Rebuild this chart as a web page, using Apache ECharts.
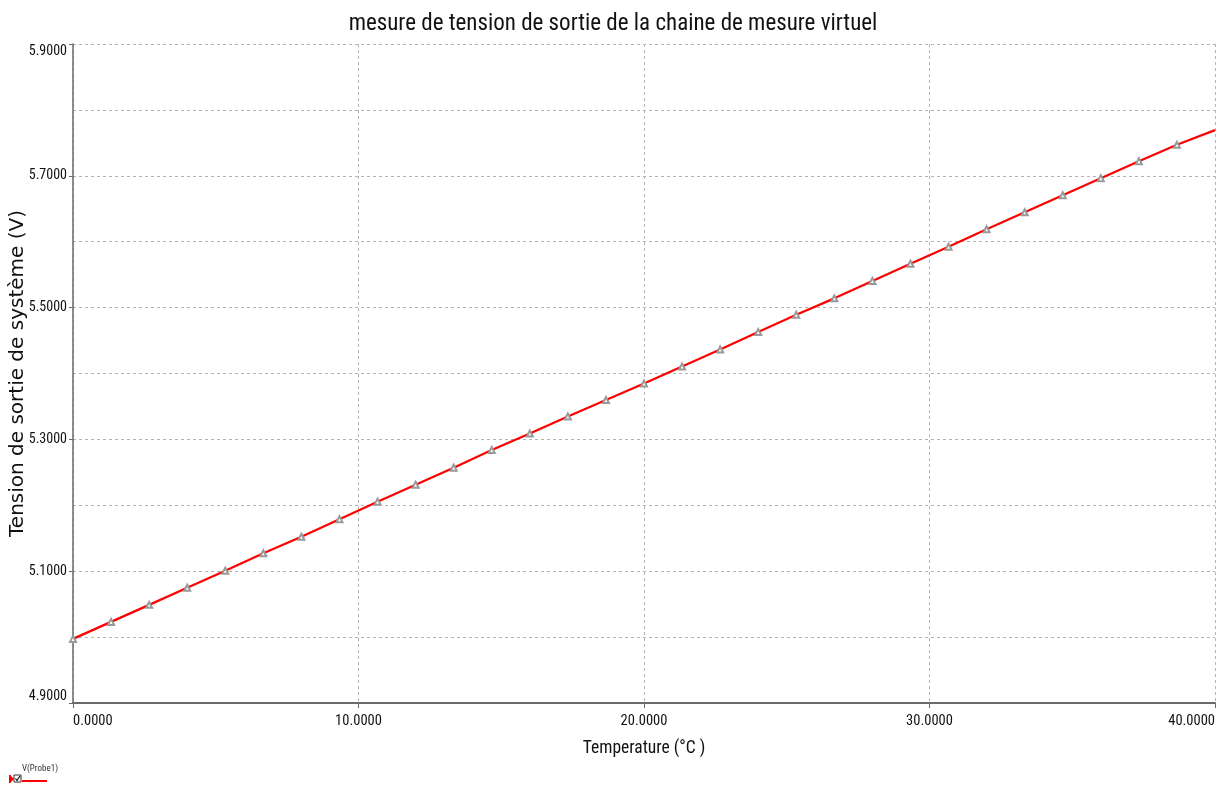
<!DOCTYPE html>
<html>
<head>
<meta charset="utf-8">
<title>mesure de tension de sortie</title>
<script src="https://cdn.jsdelivr.net/npm/echarts@6/dist/echarts.min.js"></script>
<style>
  html, body { margin: 0; padding: 0; background: #ffffff; }
  #chart { width: 1226px; height: 790px; }
</style>
</head>
<body>
<div id="chart"></div>
<script>
// Simulated probe output: temperature sweep (°C) and output voltage V(Probe1)
const temperature = [
  0, 1.333, 2.667, 4, 5.333, 6.667, 8, 9.333, 10.667, 12,
  13.333, 14.667, 16, 17.333, 18.667, 20, 21.333, 22.667, 24, 25.333,
  26.667, 28, 29.333, 30.667, 32, 33.333, 34.667, 36, 37.333, 38.667, 40
];
const voltage = [
  4.9973, 5.0231, 5.0489, 5.0748, 5.1006, 5.1272, 5.1523, 5.1790, 5.2055, 5.2313,
  5.2571, 5.2838, 5.3088, 5.3347, 5.3598, 5.3848, 5.4106, 5.4365, 5.4630, 5.4890,
  5.5140, 5.5405, 5.5665, 5.5925, 5.6188, 5.6447, 5.6705, 5.6964, 5.7222, 5.7470,
  5.7693
];
const seriesName = 'V(Probe1)';
const chartTitle = 'mesure de tension de sortie de la chaine de mesure virtuel';
const xAxisTitle = 'Temperature (°C )';
const yAxisTitle = 'Tension de sortie de système (V)';

const narrow = "'Liberation Sans Narrow', 'Arial Narrow', 'Roboto Condensed', 'Liberation Sans', sans-serif";
const points = temperature.map((t, i) => [t, voltage[i]]);
const lastIndex = points.length - 1;

const chart = echarts.init(document.getElementById('chart'), null, { renderer: 'canvas' });
chart.setOption({
  backgroundColor: '#ffffff',
  animation: false,
  title: {
    text: chartTitle,
    left: 'center',
    top: 8,
    textStyle: { fontFamily: narrow, fontSize: 23, fontWeight: 'normal', color: '#111' }
  },
  grid: { left: 73, right: 11, top: 44, bottom: 87, containLabel: false, outerBoundsMode: 'none' },
  xAxis: {
    type: 'value',
    min: 0,
    max: 40,
    interval: 10,
    name: xAxisTitle,
    nameLocation: 'middle',
    nameGap: 37,
    nameMoveOverlap: false,
    nameTextStyle: { fontFamily: narrow, fontSize: 17.5, color: '#111' },
    axisLine: { show: true, onZero: false, lineStyle: { color: '#6a6a6a', width: 2 } },
    axisTick: { show: true, length: 5, lineStyle: { color: '#6a6a6a' } },
    axisLabel: {
      margin: 11,
      fontFamily: narrow,
      fontSize: 14.5,
      color: '#111',
      alignMinLabel: 'left',
      alignMaxLabel: 'right',
      formatter: v => v.toFixed(4)
    },
    splitLine: { show: true, lineStyle: { color: '#b4b4b4', type: [3, 3], width: 1 } }
  },
  yAxis: {
    type: 'value',
    min: 4.9,
    max: 5.9,
    interval: 0.2,
    name: yAxisTitle,
    nameLocation: 'middle',
    nameRotate: 90,
    nameGap: 45,
    nameMoveOverlap: false,
    nameTextStyle: { fontFamily: "'DejaVu Sans', sans-serif", fontSize: 20, color: '#111' },
    axisLine: { show: true, onZero: false, lineStyle: { color: '#6a6a6a', width: 1.5 } },
    axisTick: { show: true, length: 4, lineStyle: { color: '#6a6a6a' } },
    axisLabel: {
      margin: 6,
      fontFamily: narrow,
      fontSize: 14,
      color: '#111',
      verticalAlignMinLabel: 'bottom',
      verticalAlignMaxLabel: 'top',
      formatter: v => v.toFixed(4)
    },
    splitLine: { show: true, lineStyle: { color: '#b4b4b4', type: [3, 3], width: 1 } },
    minorTick: { show: false, splitNumber: 2 },
    minorSplitLine: { show: true, lineStyle: { color: '#b4b4b4', type: [3, 3], width: 1 } }
  },
  series: [{
    name: seriesName,
    type: 'line',
    data: points,
    symbol: (val, params) => (params.dataIndex === lastIndex ? 'none' : 'emptyTriangle'),
    symbolSize: 6,
    showAllSymbol: true,
    itemStyle: { color: '#999999', borderColor: '#999999', borderWidth: 1 },
    lineStyle: { color: '#ff0000', width: 2.2 },
    emphasis: { disabled: true },
    z: 3
  }],
  graphic: [
    // legend entry: enable mark, checkbox, series label and colour swatch
    { type: 'rect', shape: { x: 9, y: 775, width: 2, height: 8 }, style: { fill: '#ff0000' } },
    { type: 'polygon', shape: { points: [[11, 776], [14, 779], [11, 782]] }, style: { fill: '#ff0000' } },
    { type: 'rect', shape: { x: 14, y: 775, width: 7, height: 7 }, style: { fill: '#fff', stroke: '#333', lineWidth: 1 } },
    { type: 'polyline', shape: { points: [[15.5, 778.5], [17, 780.5], [20, 776]] }, style: { stroke: '#111', lineWidth: 1.2, fill: null } },
    { type: 'text', left: 22, top: 764, style: { text: seriesName, fontFamily: narrow, fontSize: 9, fill: '#333' } },
    { type: 'line', shape: { x1: 22, y1: 781, x2: 47, y2: 781 }, style: { stroke: '#ff0000', lineWidth: 2 } }
  ]
});
</script>
</body>
</html>
